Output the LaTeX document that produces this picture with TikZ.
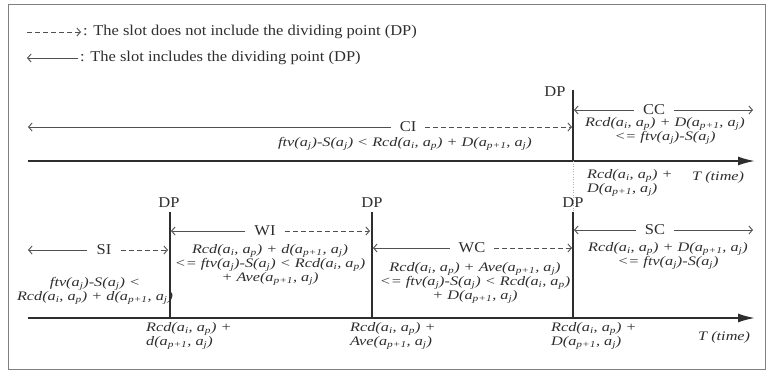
\documentclass[tikz,border=0pt]{standalone}
\usepackage{fontspec}
\setmainfont{Liberation Serif}
\newfontfamily\lblfont{Liberation Serif}[FakeStretch=1.1]
\newfontfamily\mthfont{Liberation Serif}[FakeStretch=1.25]
\usetikzlibrary{arrows.meta}
\definecolor{ink}{HTML}{2E2E2E}
\definecolor{lgray}{HTML}{505050}
\definecolor{frm}{HTML}{808080}
\newcommand{\lo}[1]{\textsubscript{#1}}
\newcommand{\RcdT}{Rcd(a\lo{i}, a\lo{p})}
\newcommand{\tailT}[1]{#1(a\lo{p+1}, a\lo{j})}
\newcommand{\ftvT}{ftv(a\lo{j})-S(a\lo{j})}
\begin{document}
\begin{tikzpicture}[x=1pt,y=-1pt,
  lbl/.style={font=\lblfont\fontsize{15}{16}\selectfont, text=ink, inner sep=0pt},
  slotname/.style={font=\lblfont\fontsize{15}{16}\selectfont, text=ink, inner xsep=9pt, inner ysep=0pt},
  expr/.style={font=\mthfont\itshape\fontsize{13}{14}\selectfont, text=ink, inner sep=0pt, align=center},
  axisline/.style={draw=ink, line width=1.8pt, -{Latex[length=17pt,width=9pt]}},
  dpline/.style={draw=ink, line width=1.2pt},
  dpdots/.style={draw=gray!60, line width=0.6pt, dotted},
  incl/.style={draw=lgray, line width=0.9pt, -{Straight Barb[length=3.5pt,width=8pt]}},
  excl/.style={draw=lgray, line width=0.9pt, dash pattern=on 5pt off 3pt, -{Straight Barb[length=3.5pt,width=8pt]}},
]
\useasboundingbox (0,0) rectangle (766,372);
\draw[frm, line width=1pt] (8.5,4.5) rectangle (765,369);

% legend
\coordinate (l1a) at (27,32);
\node[lbl, anchor=west] (l1) at (83,32) {: The slot does not include the dividing point (DP)};
\draw[excl, shorten >=2pt] (l1a) -- (l1.west);
\coordinate (l2a) at (27,58);
\node[lbl, anchor=west] (l2) at (80,58) {: The slot includes the dividing point (DP)};
\draw[incl, shorten <=2pt] (l2.west) -- (l2a);

% top timeline
\coordinate (ax1s) at (28,161);
\coordinate (ax1e) at (755,161);
\draw[axisline] (ax1s) -- (ax1e);
\coordinate (dpT) at (573,90);
\coordinate (dpTb) at (573,161);
\coordinate (dpB3t) at (573,212);
\draw[dpline] (dpT) -- (dpTb);
\draw[dpdots] (dpTb) -- (dpB3t);
\node[lbl] (dpTl) at (555,92) {DP};

\node[slotname] (ci) at (408,127) {CI};
\coordinate (ciL) at (28,127);
\coordinate (ciR) at (572,127);
\draw[incl] (ci.west) -- (ciL);
\draw[excl] (ci.east) -- (ciR);

\node[slotname] (cc) at (654,110) {CC};
\coordinate (ccL) at (574,110);
\coordinate (ccR) at (753,110);
\draw[incl] (cc.west) -- (ccL);
\draw[incl] (cc.east) -- (ccR);

\node[expr] (citext) at (405,144) {\ftvT{} < \RcdT{} + \tailT{D}};
\node[expr] (cctext) at (665,131) {\RcdT{} + \tailT{D}\\<= \ftvT};
\node[expr, align=left, anchor=north west] (v1) at (587,169) {\RcdT{} +\\\tailT{D}};
\node[expr, anchor=west] (t1) at (692,177) {T (time)};

% bottom timeline
\coordinate (ax2s) at (28,318);
\coordinate (ax2e) at (755,318);
\draw[axisline] (ax2s) -- (ax2e);
\coordinate (dpB1t) at (170,212);
\coordinate (dpB1b) at (170,318);
\coordinate (dpB2t) at (372,212);
\coordinate (dpB2b) at (372,318);
\coordinate (dpB3b) at (573,318);
\draw[dpline] (dpB1t) -- (dpB1b);
\draw[dpline] (dpB2t) -- (dpB2b);
\draw[dpline] (dpB3t) -- (dpB3b);
\node[lbl] (dpl1) at (169,203) {DP};
\node[lbl] (dpl2) at (372,203) {DP};
\node[lbl] (dpl3) at (573,203) {DP};

\node[slotname] (si) at (104,250) {SI};
\coordinate (siL) at (28,250);
\coordinate (siR) at (168,250);
\draw[incl] (si.west) -- (siL);
\draw[excl] (si.east) -- (siR);

\node[slotname] (wi) at (265,231) {WI};
\coordinate (wiL) at (171,231);
\coordinate (wiR) at (370,231);
\draw[incl] (wi.west) -- (wiL);
\draw[excl] (wi.east) -- (wiR);

\node[slotname] (wc) at (472,248) {WC};
\coordinate (wcL) at (373,248);
\coordinate (wcR) at (572,248);
\draw[incl] (wc.west) -- (wcL);
\draw[excl] (wc.east) -- (wcR);

\node[slotname] (sc) at (655,230) {SC};
\coordinate (scL) at (574,230);
\coordinate (scR) at (753,230);
\draw[incl] (sc.west) -- (scL);
\draw[incl] (sc.east) -- (scR);

\node[expr] (sitext) at (95,291) {\ftvT{} <\\\RcdT{} + \tailT{d}};
\node[expr] (witext) at (270,265) {\RcdT{} + \tailT{d}\\<= \ftvT{} < \RcdT\\+ \tailT{Ave}};
\node[expr] (wctext) at (475,283) {\RcdT{} + \tailT{Ave}\\<= \ftvT{} < \RcdT\\+ \tailT{D}};
\node[expr] (sctext) at (668,256) {\RcdT{} + \tailT{D}\\<= \ftvT};

\node[expr, align=left, anchor=north west] (u1) at (146,322) {\RcdT{} +\\\tailT{d}};
\node[expr, align=left, anchor=north west] (u2) at (350,322) {\RcdT{} +\\\tailT{Ave}};
\node[expr, align=left, anchor=north west] (u3) at (551,322) {\RcdT{} +\\\tailT{D}};
\node[expr, anchor=west] (t2) at (698,337) {T (time)};
\end{tikzpicture}
\end{document}
